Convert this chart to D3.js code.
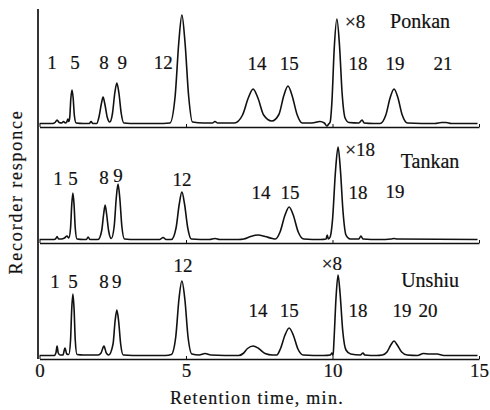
<!DOCTYPE html>
<html>
<head>
<meta charset="utf-8">
<script src="https://cdn.jsdelivr.net/npm/d3@7"></script>
<style>
body { margin: 0; background: #fff; }
</style>
</head>
<body>
<svg></svg>
<script>
// retention time (min) and recorder response
var ponkan = [[0.0,0.5],[0.45,0.5],[0.53,1.5],[0.6,4],[0.67,1.5],[0.76,1],[0.82,2.5],[0.88,1],[0.93,2],[0.97,5],[1.0,2.5],
  [1.03,6],[1.07,25.5],[1.11,34],[1.15,25.5],[1.19,8.5],[1.25,1],
  [1.5,0.5],[1.7,0.5],[1.76,2.5],[1.82,0.5],[1.95,0.5],
  [2.03,7],[2.11,20],[2.17,27],[2.23,20],[2.31,7],[2.40,2],
  [2.49,10.5],[2.57,31],[2.64,41],[2.71,31],[2.79,10.5],[2.88,1],
  [3.3,0.5],[4.0,0.5],[4.45,1],
  [4.63,28],[4.755,82],[4.86,109],[4.965,82],[5.09,28],[5.22,2],
  [5.6,1],[5.9,1],[5.99,2.5],[6.08,1],[6.65,1],
  [6.93,9],[7.125,26],[7.29,35],[7.455,26],[7.65,9],[7.93,3],
  [8.17,9.5],[8.34,28.5],[8.48,38],[8.62,28.5],[8.79,9.5],[8.97,1],
  [9.3,1],[9.57,2.5],[9.72,1],[9.81,-2],[9.87,0],
  [9.92,2],[9.98,22],[10.06,76],[10.15,105],[10.24,78],[10.33,30],[10.43,6],[10.56,1.5],
  [10.9,1],[11.01,4],[11.08,1],[11.4,0.5],
  [11.62,0.5],[11.82,9],[11.97,26.5],[12.1,35],[12.23,26.5],[12.38,9],[12.56,1],
  [13.5,0.5],[13.72,1.5],[13.88,1.5],[14.05,0.5],[14.95,0.5]]

var tankan = [[0.0,0.5],[0.5,0.5],[0.56,1.5],[0.6,3.5],[0.65,1],[0.75,1],[0.85,2],[0.94,4],[1.0,2],
  [1.06,12],[1.10,35],[1.14,47],[1.18,35],[1.22,12],[1.28,1],
  [1.5,0.5],[1.6,0.5],[1.66,3],[1.72,0.5],[2.0,0.5],
  [2.12,9],[2.19,26],[2.24,35],[2.29,26],[2.36,9],[2.45,1.5],
  [2.55,14],[2.62,42],[2.68,56],[2.74,42],[2.81,14],[2.9,1],
  [3.3,0.5],[4.1,0.5],[4.22,2.5],[4.32,0.5],[4.5,0.5],
  [4.66,12],[4.77,36],[4.86,48],[4.95,36],[5.06,12],[5.18,1],
  [5.8,0.5],[5.99,1.5],[6.15,0.5],[6.8,0.5],
  [6.97,1],[7.2,3.5],[7.46,5],[7.7,3.5],[7.95,1.5],
  [8.05,1],[8.21,8],[8.38,25],[8.52,33],[8.66,25],[8.83,8],[9.02,1],
  [9.6,0.5],[9.78,1],[9.82,5],[9.86,1],
  [9.92,3],[10.0,20],[10.1,68],[10.19,93],[10.27,70],[10.36,28],[10.46,5],[10.6,1],
  [10.9,1],[10.97,4],[11.04,1],[11.6,0.5],[12.0,1],[12.1,1.5],[12.2,1],[14.95,0.5]]

var unshiu = [[0.0,0.5],[0.5,0.5],[0.56,3],[0.6,10],[0.64,3],[0.7,1],[0.8,1],[0.87,8],[0.93,2],[1.0,1.5],
  [1.06,16],[1.10,47],[1.14,62],[1.18,47],[1.22,16],[1.28,1.5],
  [1.5,1],[2.0,1],[2.1,3],[2.2,10],[2.28,3],[2.36,1],
  [2.51,12],[2.58,35],[2.64,46],[2.7,35],[2.77,12],[2.86,1],
  [3.5,0.5],[4.3,0.5],[4.5,1.5],
  [4.65,19],[4.76,57],[4.86,75],[4.96,57],[5.07,19],[5.2,2],
  [5.45,1],[5.65,2.5],[5.85,1],[6.8,0.5],
  [6.95,2.5],[7.1,7.5],[7.29,10],[7.48,7.5],[7.7,2.5],[7.95,1],
  [8.1,1],[8.22,7],[8.38,21],[8.52,28],[8.66,21],[8.82,7],[9.0,1],
  [9.7,0.5],[9.93,1],[9.98,3],[10.02,0.5],
  [10.05,15],[10.12,58],[10.19,81],[10.26,62],[10.35,25],[10.46,6],[10.62,2],
  [10.95,1],[11.04,3],[11.1,1],[11.5,0.5],
  [11.7,1],[11.86,4],[11.99,11],[12.1,15],[12.21,11],[12.36,4],[12.55,1],
  [12.9,0.5],[13.1,2.5],[13.3,2],[13.57,2],[13.8,0.5],[14.95,0.5]]

// peak numbers: [label, time, response]
var ponkanPeaks = [["1",0.43,55],["5",1.21,55],["8",2.2,55],["9",2.82,55],["12",4.22,55],
  ["14",7.42,54],["15",8.52,54],["18",10.87,54],["19",12.13,54],["21",13.77,54]]
var tankanPeaks = [["1",0.63,55],["5",1.14,55],["8",2.2,56],["9",2.68,58],["12",4.86,54],
  ["14",7.56,41],["15",8.55,41],["18",10.87,41],["19",12.13,42]]
var unshiuPeaks = [["1",0.53,68],["5",1.14,68],["8",2.2,68],["9",2.64,68],["12",4.9,84],
  ["14",7.46,39],["15",8.52,39],["18",10.87,39],["19",12.37,39],["20",13.26,39]]

var names = ["Ponkan", "Tankan", "Unshiu"]
var gains = ["\u00d78", "\u00d718", "\u00d78"]
var gainPos = [[10.77,96],[10.94,84],[9.98,86]]
var namePos = [[12.99,96],[13.33,72],[13.33,69]]
var xTicks = [0, 5, 10, 15]

var serif = "'Liberation Serif'"
var screen = {width:490, height:410}
var bases = [124, 240, 356]

var svg = d3.select("svg")
  .attr("width", screen.width)
  .attr("height", screen.height)

var xScale = d3.scaleLinear().domain([0, 15]).range([39.5, 479])

var traces = [ponkan, tankan, unshiu]
var peaks = [ponkanPeaks, tankanPeaks, unshiuPeaks]

var addText = function(sel, size)
{
  return sel.append("text")
    .style("font-family", serif)
    .style("font-size", size + "px")
    .attr("fill", "#111")
    .attr("stroke", "#111")
    .attr("stroke-width", 0.2)
}

traces.forEach(function(trace, i)
{
  var yScale = d3.scaleLinear().domain([0, 110]).range([bases[i], bases[i] - 110])

  var line = d3.line()
    .x(function(d){ return xScale(d[0]) })
    .y(function(d){ return yScale(d[1]) })
    .curve(d3.curveMonotoneX)

  svg.append("path")
    .datum(trace)
    .attr("d", line)
    .attr("fill", "none")
    .attr("stroke", "#111")
    .attr("stroke-width", 1.6)

  var axis = d3.axisBottom(xScale)
    .tickValues(xTicks)
    .tickSize(-3)
    .tickSizeOuter(0)
    .tickPadding(5)
  if (i < 2) axis.tickFormat("")

  var g = svg.append("g")
    .attr("transform", "translate(0," + (bases[i] + 3) + ")")
    .call(axis)
  g.select(".domain").attr("stroke", "#111").attr("stroke-width", 1.7)
  g.selectAll(".tick line").attr("stroke", "#111")
  g.selectAll(".tick text")
    .style("font-family", serif)
    .style("font-size", "19px")
    .attr("fill", "#111")
    .attr("stroke", "#111")
    .attr("stroke-width", 0.2)

  var pk = svg.append("g")
  peaks[i].forEach(function(d)
  {
    addText(pk, 19)
      .attr("x", xScale(d[1]))
      .attr("y", yScale(d[2]))
      .attr("text-anchor", "middle")
      .text(d[0])
  })

  addText(svg, 19)
    .attr("x", xScale(gainPos[i][0]))
    .attr("y", yScale(gainPos[i][1]))
    .attr("text-anchor", "middle")
    .text(gains[i])

  addText(svg, 20)
    .attr("x", xScale(namePos[i][0]))
    .attr("y", yScale(namePos[i][1]))
    .attr("text-anchor", "middle")
    .text(names[i])
})

// left axis line
svg.append("line")
  .attr("x1", 38).attr("x2", 38)
  .attr("y1", 9).attr("y2", bases[2] + 3)
  .attr("stroke", "#111")
  .attr("stroke-width", 1.7)

addText(svg, 18)
  .attr("x", 257)
  .attr("y", 404)
  .attr("text-anchor", "middle")
  .style("letter-spacing", "1.3px")
  .text("Retention time, min.")

addText(svg, 18)
  .attr("transform", "translate(22,192) rotate(-90)")
  .attr("text-anchor", "middle")
  .style("letter-spacing", "1.8px")
  .text("Recorder responce")
</script>
</body>
</html>
